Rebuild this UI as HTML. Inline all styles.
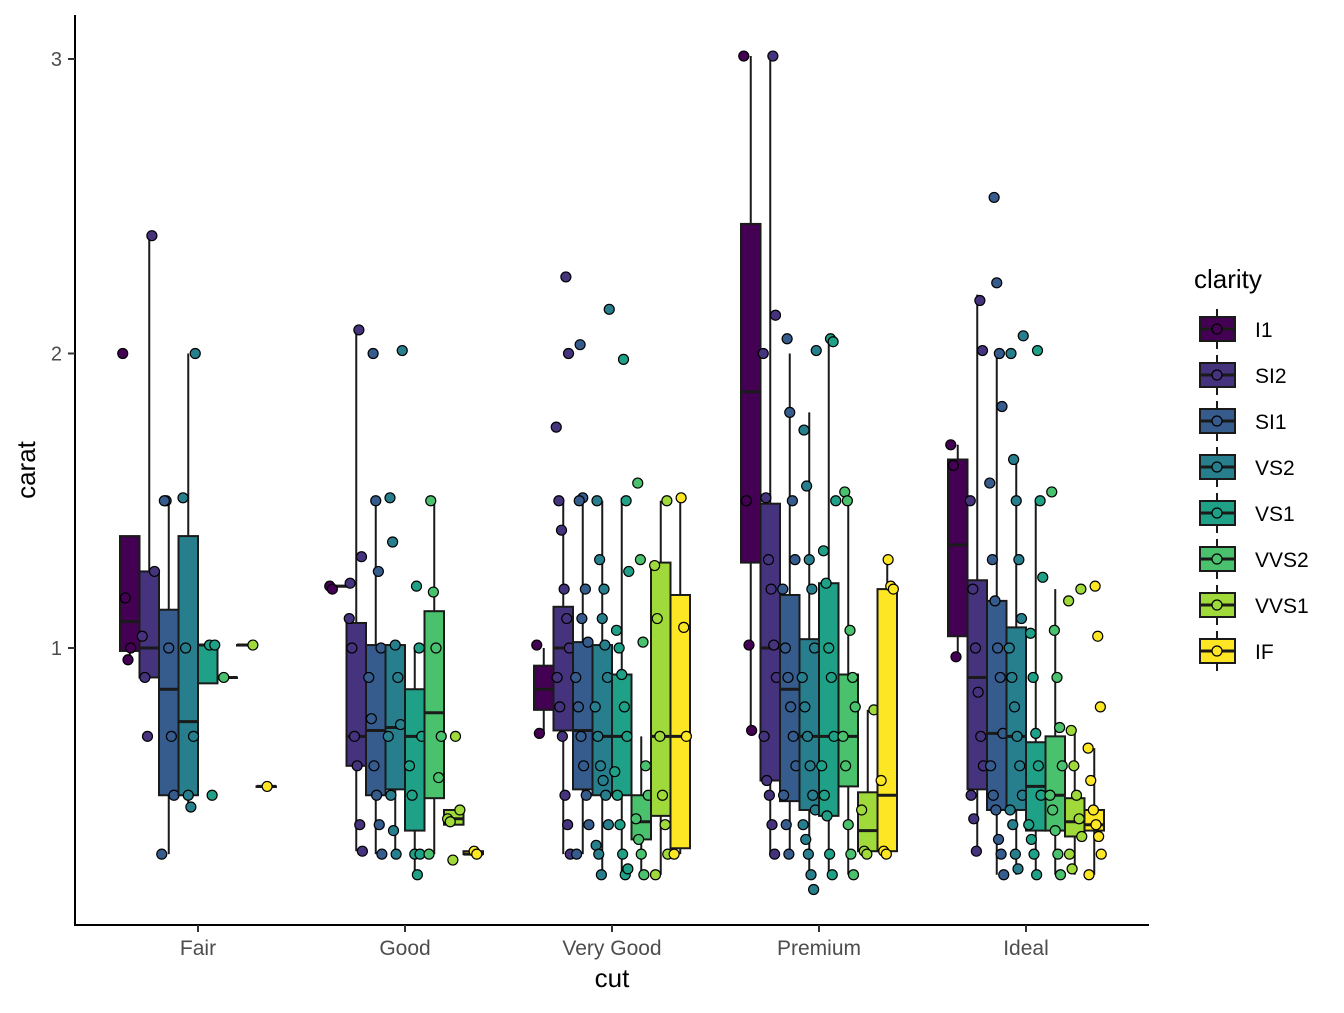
<!DOCTYPE html>
<html><head><meta charset="utf-8"><style>
body{margin:0;background:#fff}
svg text{font-family:"Liberation Sans",sans-serif}
</style></head><body>
<svg id="chart" width="1344" height="1008" xmlns="http://www.w3.org/2000/svg">
<g id="marks"></g>
<g id="axes"></g>
<g id="legend"></g>
</svg>
<script>
const cuts = ["Fair","Good","Very Good","Premium","Ideal"];
const clarities = ["I1","SI2","SI1","VS2","VS1","VVS2","VVS1","IF"];
const colors = ["#440154","#46337E","#365C8D","#277F8E","#1FA187","#4AC16D","#9FDA3A","#FDE725"];
const yTicks = [1,2,3];
// [lowWhisker, q1, median, q3, highWhisker] per cut, per clarity
const boxFair = [[0.96,0.99,1.09,1.38,1.38],[0.9,0.9,1.0,1.26,2.4],[0.3,0.5,0.86,1.13,1.5],[0.46,0.5,0.75,1.38,2.0],[0.88,0.88,1.01,1.01,1.01],[0.9,0.9,0.9,0.9,0.9],[1.01,1.01,1.01,1.01,1.01],[0.53,0.53,0.53,0.53,0.53]];
const boxGood = [[1.21,1.21,1.21,1.21,1.21],[0.31,0.6,0.7,1.085,2.08],[0.3,0.5,0.72,1.01,1.5],[0.3,0.52,0.73,1.01,1.01],[0.23,0.38,0.7,0.86,1.0],[0.3,0.49,0.78,1.125,1.5],[0.4,0.4,0.42,0.45,0.45],[0.3,0.3,0.3,0.31,0.31]];
const boxVeryGood = [[0.71,0.79,0.86,0.94,1.0],[0.3,0.72,1.0,1.14,1.5],[0.3,0.52,0.72,1.02,1.51],[0.23,0.5,0.7,1.01,1.5],[0.23,0.5,0.7,0.91,1.51],[0.23,0.35,0.41,0.5,0.7],[0.23,0.43,0.7,1.29,1.5],[0.3,0.32,0.7,1.18,1.51]];
const boxPremium = [[0.72,1.29,1.87,2.44,3.01],[0.3,0.55,1.0,1.49,3.01],[0.3,0.48,0.86,1.18,2.0],[0.23,0.45,0.7,1.03,1.8],[0.23,0.43,0.7,1.22,2.05],[0.23,0.53,0.7,0.91,1.5],[0.3,0.31,0.38,0.51,0.79],[0.3,0.31,0.5,1.2,1.3]];
const boxIdeal = [[0.97,1.04,1.35,1.64,1.69],[0.3,0.52,0.9,1.23,2.2],[0.23,0.45,0.71,1.16,2.0],[0.23,0.45,0.7,1.07,1.64],[0.23,0.38,0.53,0.68,1.5],[0.23,0.38,0.5,0.7,1.2],[0.23,0.36,0.41,0.49,0.72],[0.23,0.38,0.4,0.45,0.66]];
const boxes = [boxFair,boxGood,boxVeryGood,boxPremium,boxIdeal];
// jittered observations per cut, per clarity
const ptsFair = [[2.0,1.17,0.96,1.0],[2.4,1.26,1.04,0.9,0.7],[1.5,1.0,0.7,0.5,0.3,1.5],[2.0,1.51,1.0,0.5,0.46,0.7],[1.01,0.5,1.01],[0.9],[1.01],[0.53]];
const ptsGood = [[1.21,1.2],[2.08,1.31,1.1,1.0,0.7,0.6,0.4,0.31,1.22],[2.0,1.5,1.26,1.0,0.9,0.76,0.6,0.5,0.4,0.3],[2.01,1.51,1.36,1.01,0.9,0.74,0.7,0.5,0.38,0.3],[1.21,1.0,0.7,0.6,0.5,0.3,0.23,0.3],[1.5,1.19,1.0,0.56,0.7,0.3],[0.45,0.42,0.41,0.28,0.7],[0.31,0.3]];
const ptsVeryGood = [[1.01,0.71],[2.26,2.0,1.75,1.5,1.4,1.2,1.1,1.0,0.9,0.8,0.7,0.5,0.4,0.3],[2.03,1.51,1.2,1.02,0.9,0.8,0.7,0.6,0.5,0.4,0.3,1.5,1.1],[2.15,1.5,1.3,1.1,1.01,0.9,0.8,0.7,0.6,0.55,0.5,0.4,0.33,0.3,0.23,1.2],[1.98,1.5,1.26,1.06,1.0,0.91,0.8,0.7,0.58,0.5,0.4,0.3,0.23,0.25],[1.56,1.3,1.02,0.6,0.5,0.42,0.35,0.3,0.23],[1.5,1.28,1.1,0.7,0.5,0.4,0.3,0.23],[1.51,1.07,0.7,0.3]];
const ptsPremium = [[3.01,1.5,1.01,0.72],[3.01,2.13,2.0,1.51,1.3,1.2,1.01,0.9,0.7,0.55,0.5,0.4,0.3],[2.05,1.8,1.5,1.3,1.2,1.0,0.9,0.8,0.7,0.6,0.5,0.4,0.3],[2.01,1.74,1.55,1.3,1.2,1.0,0.9,0.8,0.7,0.6,0.5,0.45,0.4,0.35,0.3,0.23,0.18],[2.05,2.04,1.5,1.33,1.22,1.0,0.9,0.7,0.6,0.5,0.43,0.3,0.23],[1.53,1.5,1.06,0.9,0.8,0.7,0.6,0.4,0.3,0.23],[0.79,0.45,0.31,0.3],[1.3,1.21,1.2,0.55,0.31,0.3]];
const ptsIdeal = [[1.69,1.62,0.97],[2.18,2.01,1.5,1.2,1.0,0.85,0.7,0.6,0.5,0.42,0.31],[2.53,2.24,2.0,1.82,1.56,1.3,1.16,1.0,0.9,0.71,0.6,0.5,0.45,0.35,0.3,0.23],[2.06,2.0,1.64,1.5,1.3,1.1,1.0,0.9,0.8,0.7,0.6,0.5,0.45,0.4,0.3,0.25],[2.01,1.5,1.24,1.05,0.9,0.71,0.6,0.5,0.4,0.35,0.3,0.23],[1.53,1.06,0.9,0.73,0.6,0.5,0.45,0.38,0.3,0.23],[1.2,1.16,0.72,0.6,0.5,0.42,0.36,0.3,0.25],[1.21,1.04,0.8,0.66,0.55,0.45,0.4,0.36,0.3,0.23]];
const pts = [ptsFair,ptsGood,ptsVeryGood,ptsPremium,ptsIdeal];

const NS="http://www.w3.org/2000/svg";
function mk(tag,attrs,parent){const e=document.createElementNS(NS,tag);for(const k in attrs)e.setAttribute(k,attrs[k]);parent.appendChild(e);return e;}
const yScale=v=>648-(v-1)*294.5;
const xCenter=i=>198+i*207;
const slotW=19.5;
const slotLeft=(i,j)=>xCenter(i)-78+j*slotW;
const marks=document.getElementById('marks');
const EDGE='#1a1a1a';

cuts.forEach((c,i)=>{
  clarities.forEach((cl,j)=>{
    const b=boxes[i][j];
    const l=slotLeft(i,j), cx=l+slotW/2;
    const g=mk('g',{},marks);
    
    
    mk('line',{x1:cx,x2:cx,y1:yScale(b[0]),y2:yScale(b[4]),stroke:EDGE,'stroke-width':2},g);
    mk('rect',{x:l,y:yScale(b[3]),width:slotW,height:Math.max(0.5,yScale(b[1])-yScale(b[3])),fill:colors[j],stroke:EDGE,'stroke-width':2},g);
    mk('line',{x1:l,x2:l+slotW,y1:yScale(b[2]),y2:yScale(b[2]),stroke:EDGE,'stroke-width':3},g);
    pts[i][j].forEach((v,k)=>{
      const jx=(((k*37+j*11)%17)-8)/8*7;
      const p=mk('circle',{cx:cx+jx,cy:yScale(v),r:5,fill:colors[j],stroke:'#000','stroke-width':1.2},g);
      
      
    });
  });
});

const axes=document.getElementById('axes');
mk('line',{x1:75,x2:75,y1:15,y2:926,stroke:'#000','stroke-width':2},axes);
mk('line',{x1:74,x2:1149,y1:925,y2:925,stroke:'#000','stroke-width':2},axes);
yTicks.forEach(t=>{
  mk('line',{x1:68,x2:75,y1:yScale(t),y2:yScale(t),stroke:'#333','stroke-width':2},axes);
  const tx=mk('text',{x:62,y:yScale(t)+7,'text-anchor':'end','font-size':20,fill:'#4d4d4d'},axes);
  tx.textContent=t;
  
  
});
cuts.forEach((c,i)=>{
  mk('line',{x1:xCenter(i),x2:xCenter(i),y1:925,y2:932,stroke:'#333','stroke-width':2},axes);
  const tx=mk('text',{x:xCenter(i),y:955,'text-anchor':'middle','font-size':21,fill:'#4d4d4d'},axes);
  tx.textContent=c;
  
  
});
const xt=mk('text',{x:612,y:987,'text-anchor':'middle','font-size':26},axes);xt.textContent='cut';


const yt=mk('text',{x:35,y:470,'text-anchor':'middle','font-size':26,transform:'rotate(-90 35 470)'},axes);yt.textContent='carat';



const leg=document.getElementById('legend');
const lt=mk('text',{x:1194,y:288,'font-size':26},leg);lt.textContent='clarity';


clarities.forEach((cl,j)=>{
  const y=329+j*46;
  const g=mk('g',{},leg);
  
  
  mk('line',{x1:1217,x2:1217,y1:y-20,y2:y+20,stroke:EDGE,'stroke-width':2},g);
  mk('rect',{x:1200,y:y-12,width:35,height:24,fill:colors[j],stroke:EDGE,'stroke-width':2},g);
  mk('line',{x1:1200,x2:1235,y1:y,y2:y,stroke:EDGE,'stroke-width':3},g);
  mk('circle',{cx:1217,cy:y,r:5,fill:colors[j],stroke:'#000','stroke-width':1.2},g);
  const t=mk('text',{x:1255,y:y+8,'font-size':21},g);t.textContent=cl;
});
</script>
</body></html>
